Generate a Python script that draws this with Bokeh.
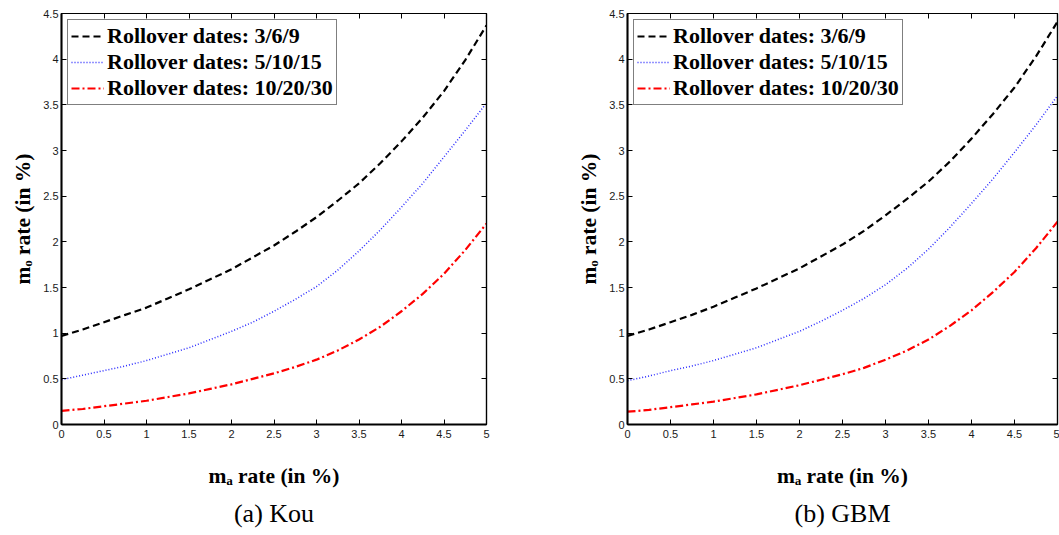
from bokeh.plotting import figure
from bokeh.layouts import row
from bokeh.models import LinearAxis, Legend, LegendItem, FixedTicker, Range1d, Title
from bokeh.embed import file_html
from bokeh.resources import INLINE

# ---------------- data ----------------
ma_rate = [0.0, 0.25, 0.5, 0.75, 1.0, 1.25, 1.5, 1.75, 2.0, 2.25, 2.5,
           2.75, 3.0, 3.25, 3.5, 3.75, 4.0, 4.25, 4.5, 4.75, 5.0]

kou_3_6_9 = [0.97, 1.04, 1.12, 1.20, 1.28, 1.38, 1.48, 1.59, 1.70, 1.83, 1.96,
             2.11, 2.27, 2.45, 2.64, 2.86, 3.10, 3.36, 3.65, 3.99, 4.37]
kou_5_10_15 = [0.49, 0.54, 0.59, 0.64, 0.70, 0.77, 0.84, 0.93, 1.02, 1.12, 1.24,
               1.37, 1.51, 1.69, 1.90, 2.13, 2.38, 2.64, 2.93, 3.22, 3.52]
kou_10_20_30 = [0.15, 0.17, 0.20, 0.23, 0.26, 0.30, 0.34, 0.39, 0.44, 0.50, 0.56,
                0.63, 0.71, 0.81, 0.93, 1.07, 1.24, 1.43, 1.65, 1.91, 2.20]

gbm_3_6_9 = [0.97, 1.04, 1.12, 1.20, 1.29, 1.39, 1.49, 1.60, 1.71, 1.84, 1.97,
             2.12, 2.29, 2.47, 2.66, 2.88, 3.13, 3.40, 3.69, 4.03, 4.41]
gbm_5_10_15 = [0.48, 0.53, 0.59, 0.64, 0.70, 0.77, 0.84, 0.93, 1.02, 1.13, 1.25,
               1.38, 1.53, 1.71, 1.92, 2.16, 2.42, 2.69, 2.98, 3.28, 3.60]
gbm_10_20_30 = [0.14, 0.16, 0.19, 0.22, 0.25, 0.29, 0.33, 0.38, 0.43, 0.49, 0.55,
                0.62, 0.71, 0.81, 0.93, 1.08, 1.25, 1.45, 1.67, 1.93, 2.22]

series_labels = ["Rollover dates: 3/6/9", "Rollover dates: 5/10/15", "Rollover dates: 10/20/30"]
x_ticks = [0, 0.5, 1, 1.5, 2, 2.5, 3, 3.5, 4, 4.5, 5]
x_tick_labels = ["0", "0.5", "1", "1.5", "2", "2.5", "3", "3.5", "4", "4.5", "5"]
y_ticks = [0, 0.5, 1, 1.5, 2, 2.5, 3, 3.5, 4, 4.5]
y_tick_labels = ["0", "0.5", "1", "1.5", "2", "2.5", "3", "3.5", "4", "4.5"]
x_axis_label = "m\u2090 rate (in %)"
y_axis_label = "m\u2092 rate (in %)"
captions = ["(a) Kou", "(b) GBM"]

BOLD_SERIF = "Liberation Serif"
TICK_FONT = "Liberation Sans"

line_styles = [
    dict(line_color="black", line_dash="7 4", line_width=2.2),
    dict(line_color="#2a2aff", line_dash="1 2", line_width=1.5),
    dict(line_color="#ff0000", line_dash="8 3 2 3", line_width=2.2),
]


def style_axis(ax, ticks, labels, show_labels=True):
    ax.ticker = FixedTicker(ticks=ticks)
    ax.major_tick_in = 5
    ax.major_tick_out = 0
    ax.minor_tick_in = 0
    ax.minor_tick_out = 0
    ax.axis_line_color = "black"
    ax.major_tick_line_color = "black"
    ax.major_tick_line_width = 1
    if show_labels:
        ax.major_label_overrides = {t: l for t, l in zip(ticks, labels)}
        ax.major_label_text_font = TICK_FONT
        ax.major_label_text_font_size = "11px"
        ax.major_label_text_color = "#1a1a1a"
    else:
        ax.major_label_overrides = {t: "" for t in ticks}
        ax.major_label_standoff = 0


def make_panel(width, border_left, border_right, ys, caption):
    p = figure(width=width, height=535,
               x_range=Range1d(0, 5), y_range=Range1d(0, 4.5),
               output_backend="svg", toolbar_location=None,
               min_border_left=border_left, min_border_right=border_right,
               min_border_top=13, min_border_bottom=111,
               x_axis_location=None, y_axis_location=None)
    p.xgrid.visible = False
    p.ygrid.visible = False
    p.outline_line_color = "black"
    p.outline_line_width = 1.2
    p.background_fill_color = "white"
    p.border_fill_color = "white"

    bottom = LinearAxis()
    style_axis(bottom, x_ticks, x_tick_labels)
    bottom.axis_line_width = 2
    bottom.major_label_standoff = 5
    bottom.axis_label = x_axis_label
    bottom.axis_label_text_font = BOLD_SERIF
    bottom.axis_label_text_font_style = "bold"
    bottom.axis_label_text_font_size = "21.5px"
    bottom.axis_label_text_color = "black"
    bottom.axis_label_standoff = 23
    p.add_layout(bottom, "below")

    left = LinearAxis()
    style_axis(left, y_ticks, y_tick_labels)
    left.axis_line_width = 2
    left.major_label_standoff = 3
    left.axis_label = y_axis_label
    left.axis_label_text_font = BOLD_SERIF
    left.axis_label_text_font_style = "bold"
    left.axis_label_text_font_size = "21.5px"
    left.axis_label_text_color = "black"
    left.axis_label_standoff = 5
    p.add_layout(left, "left")

    top = LinearAxis()
    style_axis(top, x_ticks, x_tick_labels, show_labels=False)
    top.axis_line_width = 1.2
    p.add_layout(top, "above")

    right = LinearAxis()
    style_axis(right, y_ticks, y_tick_labels, show_labels=False)
    right.axis_line_width = 1.2
    p.add_layout(right, "right")

    items = []
    for y, lab, st in zip(ys, series_labels, line_styles):
        r = p.line(ma_rate, y, **st)
        items.append(LegendItem(label=lab, renderers=[r]))

    legend = Legend(items=items, location="top_left")
    legend.label_text_font = BOLD_SERIF
    legend.label_text_font_style = "bold"
    legend.label_text_font_size = "22px"
    legend.label_text_color = "black"
    legend.border_line_color = "black"
    legend.border_line_width = 1.5
    legend.glyph_width = 33
    legend.glyph_height = 20
    legend.label_standoff = 3
    legend.label_height = 20
    legend.padding = 3
    legend.spacing = 0
    legend.margin = 6
    legend.background_fill_alpha = 1.0
    p.add_layout(legend, "center")

    cap = Title(text=caption, align="center", text_font="Liberation Serif",
                text_font_size="26px", text_font_style="normal",
                text_color="black", standoff=13)
    p.add_layout(cap, "below")
    return p


p1 = make_panel(530, 61, 44, [kou_3_6_9, kou_5_10_15, kou_10_20_30], captions[0])
p2 = make_panel(529, 97, 2, [gbm_3_6_9, gbm_5_10_15, gbm_10_20_30], captions[1])

layout = row(p1, p2, spacing=0)

with open("out.html", "w") as f:
    f.write(file_html(layout, INLINE))
